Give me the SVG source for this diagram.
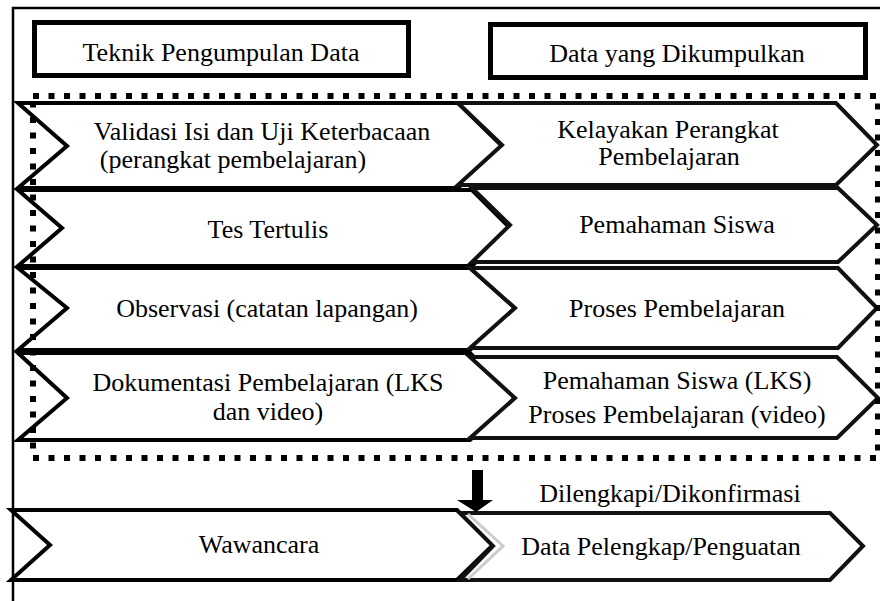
<svg xmlns="http://www.w3.org/2000/svg" width="880" height="601" viewBox="0 0 880 601">
<style>
text{font-family:"Liberation Serif","Times New Roman",serif;font-size:26px;fill:#000;text-anchor:middle}
.hdr{fill:#fff;stroke:#000;stroke-width:5}
.chev{fill:#fff;stroke:#000;stroke-width:4;stroke-linejoin:miter}
.chevR{fill:#fff;stroke:#111;stroke-width:4;stroke-linejoin:miter}
.frame{fill:none;stroke:#000;stroke-width:2.5}
.dots{fill:none;stroke:#000;stroke-width:6;stroke-dasharray:6 9.5}
</style>
<rect width="880" height="601" fill="#fff"/>
<path class="frame" d="M13,601 V8 H880"/>
<g id="hdr-teknik"><rect class="hdr" x="34.5" y="22.5" width="374" height="53"/><text x="221" y="61">Teknik Pengumpulan Data</text></g>
<g id="hdr-data"><rect class="hdr" x="490.5" y="24.5" width="375" height="53"/><text x="677" y="62">Data yang Dikumpulkan</text></g>
<g id="validasi"><polygon class="chev" points="18,103 458,103 502,146 458,188 18,188 67,146"/><text x="262" y="140">Validasi Isi dan Uji Keterbacaan</text><text x="233" y="168">(perangkat pembelajaran)</text></g>
<g id="tes"><polygon class="chev" points="18,190 472,190 510,228 472,266 18,266 62,228"/><text x="268" y="238">Tes Tertulis</text></g>
<g id="observasi"><polygon class="chev" points="18,268 470,268 515,308 470,350 18,350 67,308"/><text x="267" y="317">Observasi (catatan lapangan)</text></g>
<g id="dokumentasi"><polygon class="chev" points="18,353 470,353 515,398 470,440 18,440 67,398"/><text x="268" y="391">Dokumentasi Pembelajaran (LKS</text><text x="268" y="420">dan video)</text></g>
<g id="kelayakan"><polygon class="chevR" points="458,103 836,103 877,145 836,185 458,185 502,145"/><text x="668" y="138">Kelayakan Perangkat</text><text x="669" y="165">Pembelajaran</text></g>
<g id="pemahaman"><polygon class="chevR" points="472,188 838,188 877,225 838,262 472,262 510,225"/><text x="677" y="233">Pemahaman Siswa</text></g>
<g id="proses"><polygon class="chevR" points="470,268 838,268 877,308 838,348 470,348 515,308"/><text x="677" y="317">Proses Pembelajaran</text></g>
<g id="pemahaman-proses"><polygon class="chevR" points="470,357 837,357 878,398 837,438 470,438 515,398"/><text x="677" y="389">Pemahaman Siswa (LKS)</text><text x="677" y="423">Proses Pembelajaran (video)</text></g>
<g id="group-box"><path class="dots" d="M33,96 H878 V458 H33 Z"/></g>
<g id="wawancara"><polygon class="chev" points="11,510 457,510 493,545 457,580 11,580 50,545"/><text x="259" y="553">Wawancara</text></g>
<g id="pelengkap"><polygon class="chevR" points="460,513 830,513 863,546 830,580 460,580 493,546"/><polyline points="468,514 503,546 468,579" fill="none" stroke="#ccc" stroke-width="3"/><text x="661" y="555">Data Pelengkap/Penguatan</text></g>
<g id="connectors"><polygon points="472,470 483,470 483,500 493,500 476,512 457,500 472,500" fill="#000"/><text x="670" y="502">Dilengkapi/Dikonfirmasi</text></g>
</svg>
